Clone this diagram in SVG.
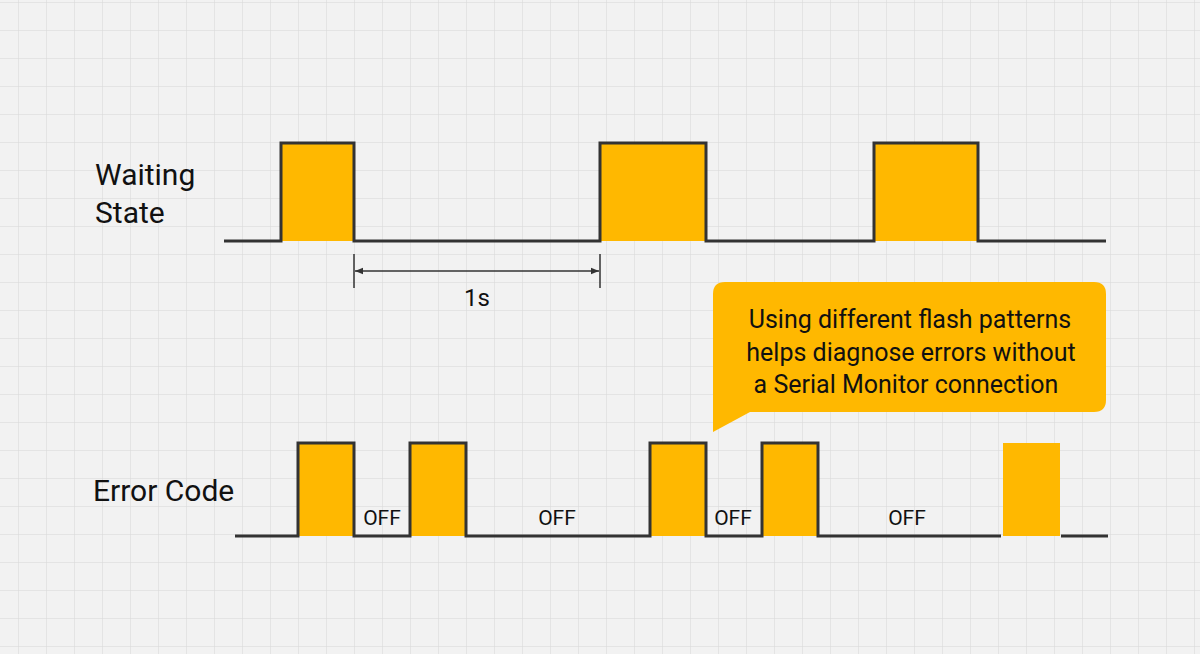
<svg xmlns="http://www.w3.org/2000/svg" width="1200" height="654" viewBox="0 0 1200 654">
<defs>
<pattern id="g" width="28" height="28" patternUnits="userSpaceOnUse" x="18" y="2">
<path d="M0 0H28M0 0V28" fill="none" stroke="#d6d6d6" stroke-width="1"/>
</pattern>
<marker id="ah" viewBox="0 0 10 10" refX="10" refY="5" markerWidth="8" markerHeight="8" orient="auto-start-reverse" markerUnits="userSpaceOnUse"><path d="M0 1L10 5L0 9Z" fill="#333"/></marker>
<style>
.sig{fill:none;stroke:#333;stroke-width:3}
.y{fill:#FFB800}
.t{font-family:Roboto,"Liberation Sans",sans-serif;fill:#111}
</style>
</defs>
<rect width="1200" height="654" fill="#f2f2f2"/>
<rect width="1200" height="654" fill="url(#g)"/>
<g id="waiting">
<rect class="y" x="281" y="143" width="73" height="98"/>
<rect class="y" x="600" y="143" width="106" height="98"/>
<rect class="y" x="874" y="143" width="104" height="98"/>
<path class="sig" d="M224 241H281V143H354V241H600V143H706V241H874V143H978V241H1106"/>
<text class="t" x="95" y="185" font-size="30">Waiting</text>
<text class="t" x="95" y="223" font-size="30">State</text>
</g>
<g id="connectors">
<path d="M354 254V288M600 254V288" stroke="#333" stroke-width="1.5"/>
<line x1="355" y1="271" x2="599" y2="271" stroke="#333" stroke-width="1.5" marker-start="url(#ah)" marker-end="url(#ah)"/>
<text class="t" x="477" y="306" font-size="24" text-anchor="middle">1s</text>
</g>
<g id="error">
<rect class="y" x="298" y="443" width="56" height="93"/>
<rect class="y" x="410" y="443" width="56" height="93"/>
<rect class="y" x="650" y="443" width="56" height="93"/>
<rect class="y" x="762" y="443" width="56" height="93"/>
<rect class="y" x="1003" y="443" width="57" height="93"/>
<path class="sig" d="M235 536H298V443H354V536H410V443H466V536H650V443H706V536H762V443H818V536H1001M1061 536H1108"/>
<text class="t" x="93" y="501" font-size="30">Error Code</text>
<g font-size="21" text-anchor="middle">
<text class="t" x="382" y="525">OFF</text>
<text class="t" x="557" y="525">OFF</text>
<text class="t" x="733" y="525">OFF</text>
<text class="t" x="907" y="525">OFF</text>
</g>
</g>
<g id="callout">
<path class="y" d="M725 282H1094Q1106 282 1106 294V400Q1106 412 1094 412H750L713 432V294Q713 282 725 282Z"/>
<g font-size="25" text-anchor="middle">
<text class="t" x="910" y="328">Using different flash patterns</text>
<text class="t" x="911" y="361">helps diagnose errors without</text>
<text class="t" x="906" y="393">a Serial Monitor connection</text>
</g>
</g>
</svg>
